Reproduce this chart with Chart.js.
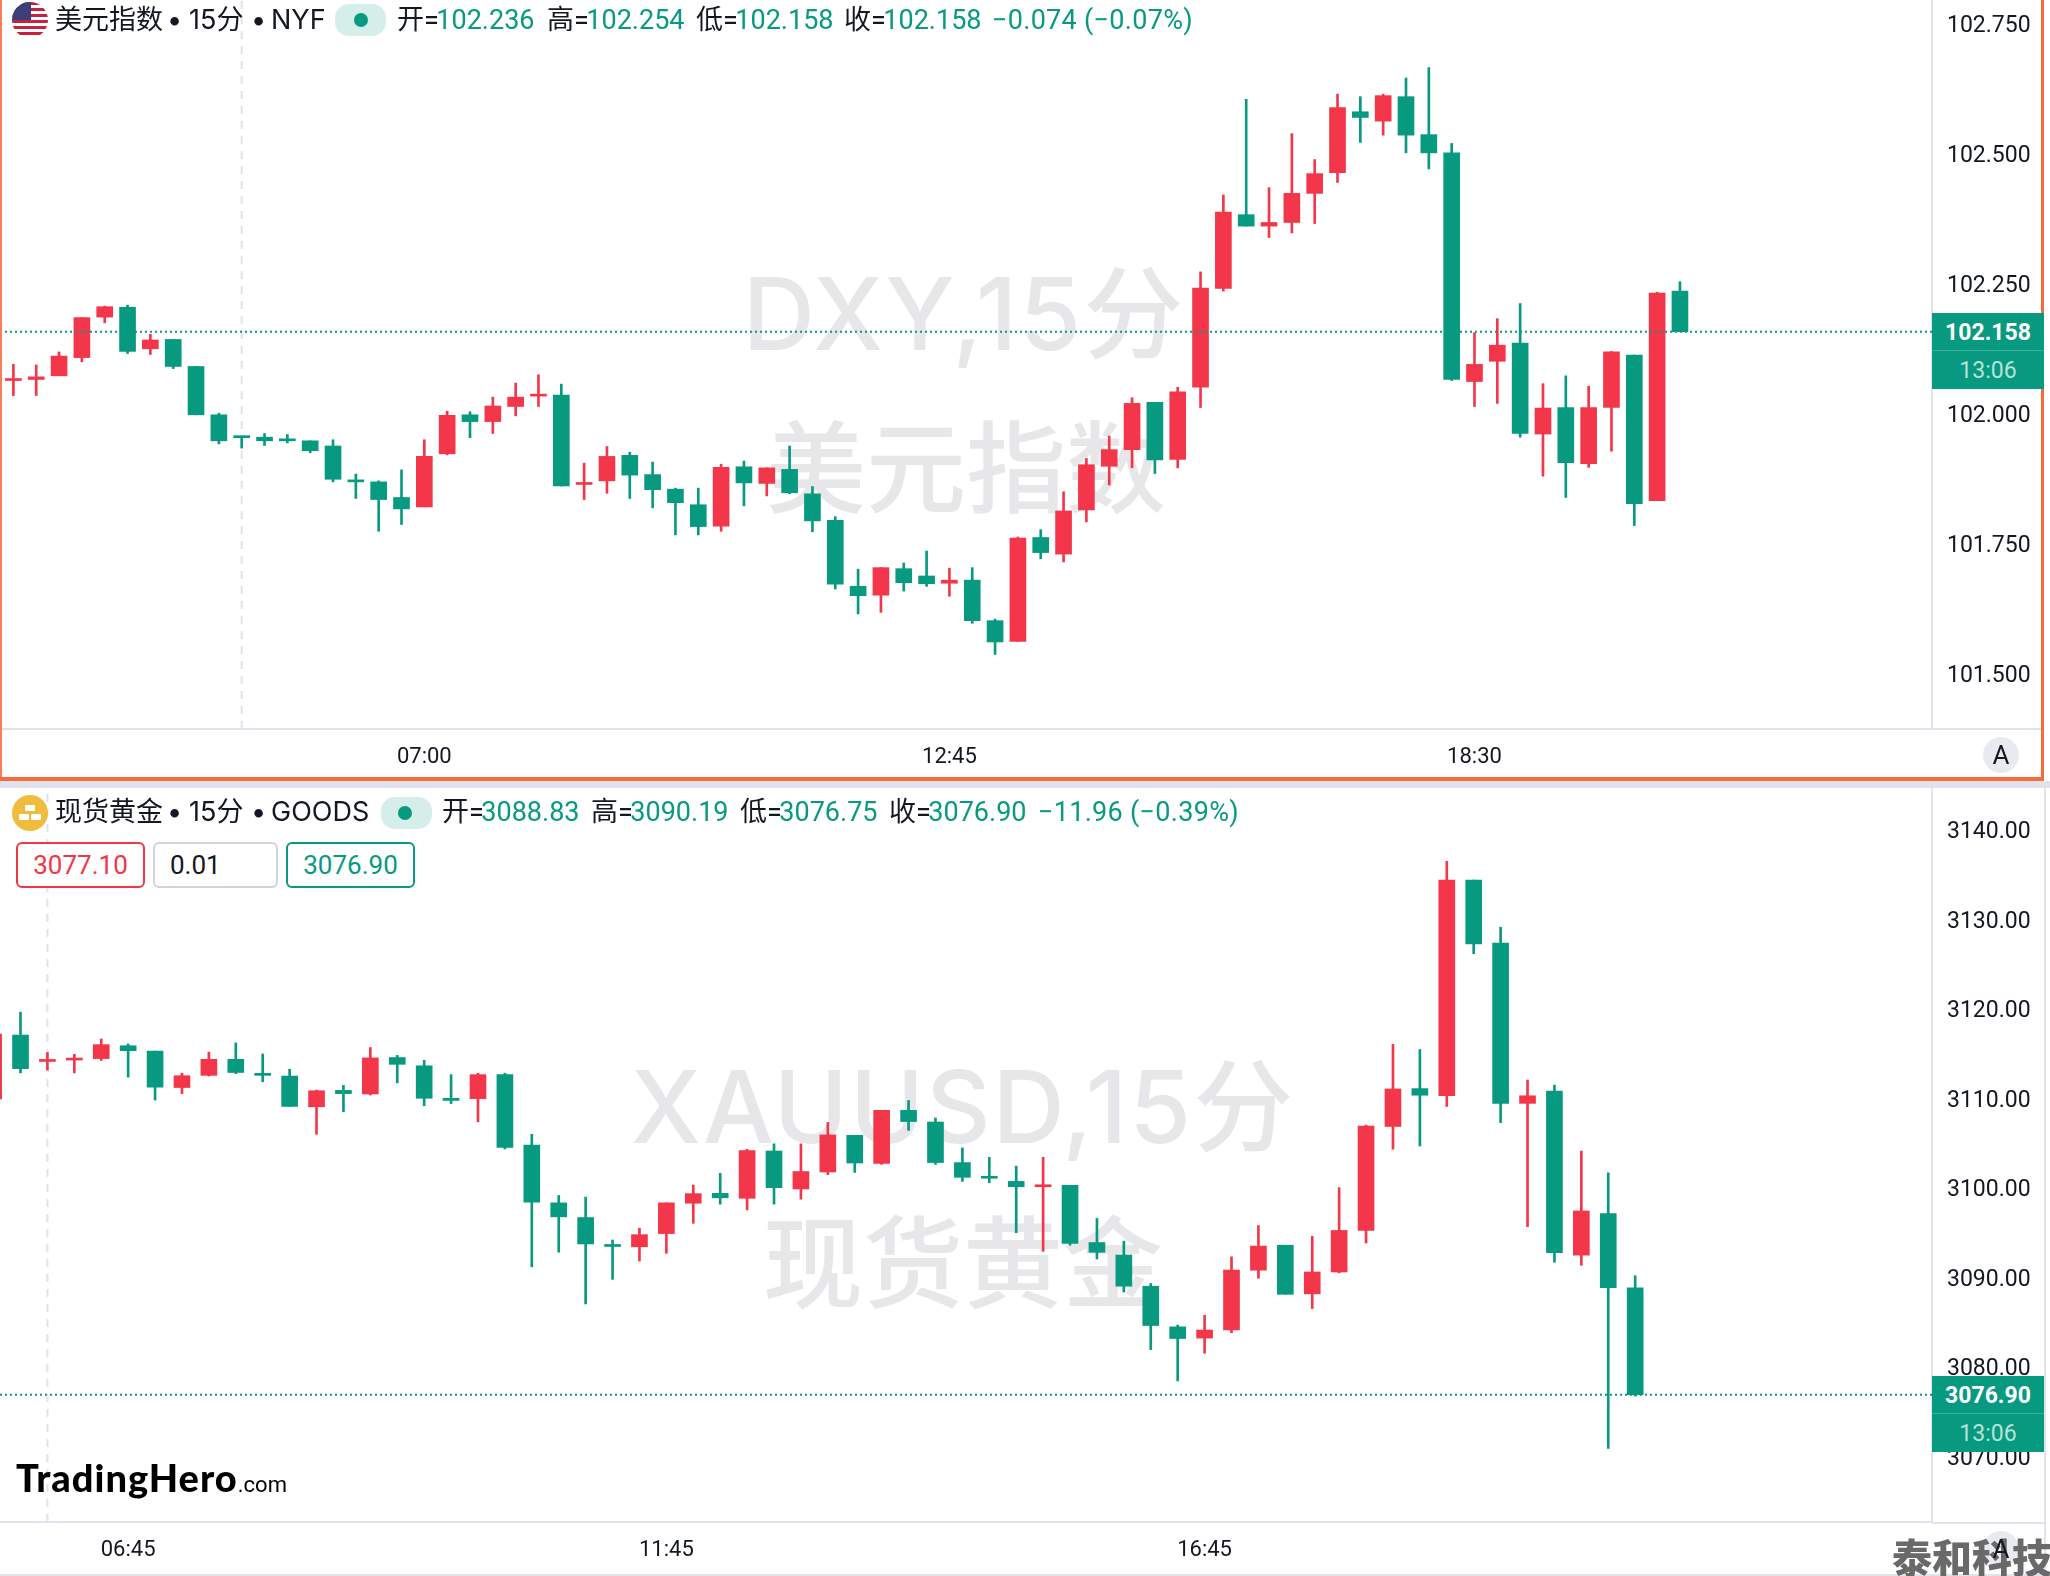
<!DOCTYPE html>
<html>
<head>
<meta charset="utf-8">
<title>DXY XAUUSD</title>
<script src="https://cdn.jsdelivr.net/npm/chart.js@4/dist/chart.umd.min.js"></script>
<style>
body { margin: 0; background: #fff; font-family: Roboto, "Noto Sans CJK SC", sans-serif; }
#page { position: relative; width: 2050px; height: 1576px; overflow: hidden; background: #fff; }
#page div, #page span, canvas { position: absolute; }
.wm { color: #e7e7ea; font-size: 100px; font-weight: 500; line-height: 100px; white-space: nowrap; transform: translateX(-50%); font-family: Inter, "Noto Sans CJK SC", sans-serif; }
.wide { letter-spacing: 2px; }
.hd { font-size: 27px; line-height: 32px; color: #131722; white-space: nowrap; }
.nm { font-family: Inter, "Noto Sans CJK SC", sans-serif; }
.up { color: #089981; }
#page span.val { position: static; color: #089981; margin-left: -2.5px; }
.box { background: #fff; box-sizing: border-box; border-radius: 6px; border: 2px solid; font-size: 26px; line-height: 42px; text-align: center; }
.tag { left: 1932px; width: 112px; height: 37px; background: #089981; color: #fff; font-size: 23px; line-height: 39px; text-align: center; }
.auto { width: 36px; height: 36px; border-radius: 18px; background: #e8eaf0; }
.autoA { width: 36px; text-align: center; font-size: 26px; line-height: 36px; color: #131722; }
.pill { width: 51px; height: 32px; border-radius: 14px; background: #d6eeea; }
.dot { width: 14px; height: 14px; border-radius: 7px; background: #089981; }
</style>
</head>
<body>
<div id="page">
  <div class="wm wide" style="left:964px;top:264px">DXY,15分</div>
  <div class="wm" style="left:966px;top:419px">美元指数</div>
  <div class="wm wide" style="left:963px;top:1057px">XAUUSD,15分</div>
  <div class="wm" style="left:963px;top:1214px">现货黄金</div>

  <canvas id="usdChart" style="left:0;top:0"></canvas>
  <canvas id="goldChart" style="left:0;top:788px"></canvas>

  <!-- panel frame -->
  <div style="left:0;top:781px;width:2050px;height:7px;background:#e0e3eb"></div>
  <div style="left:0;top:0;width:2px;height:780px;background:#fa7d55"></div>
  <div style="left:2041px;top:0;width:3px;height:781px;background:#fa6b3c"></div>
  <div style="left:0;top:777px;width:2044px;height:4px;background:#fa6b3c"></div>
  <div style="left:1932px;top:728px;width:109px;height:2px;background:#e0e3eb"></div>
  <div style="left:1932px;top:1522px;width:112px;height:2px;background:#e0e3eb"></div>
  <div style="left:0;top:1574px;width:2050px;height:2px;background:#e0e3eb"></div>
  <div style="left:2044px;top:788px;width:2px;height:788px;background:#e0e3eb"></div>

  <!-- dollar header -->
  <div style="left:12px;top:2px;width:36px;height:36px;border-radius:18px;overflow:hidden;background:repeating-linear-gradient(#c8213a 0 3px,#fff 3px 6px)">
    <div style="left:0;top:0;width:19px;height:18px;background:#3a3f7a"></div>
  </div>
  <div class="hd nm" style="left:55px;top:4px">美元指数</div>
  <div class="hd nm" style="left:167px;top:4px">•</div>
  <div class="hd nm" style="left:189px;top:4px">15分</div>
  <div class="hd nm" style="left:251px;top:4px">•</div>
  <div class="hd nm" style="left:271px;top:4px">NYF</div>
  <div class="pill" style="left:335px;top:4px"></div>
  <div class="dot" style="left:354px;top:13px"></div>
  <div class="hd" style="left:397px;top:4px">开=<span class="val">102.236</span></div>
  <div class="hd" style="left:547px;top:4px">高=<span class="val">102.254</span></div>
  <div class="hd" style="left:696px;top:4px">低=<span class="val">102.158</span></div>
  <div class="hd" style="left:844px;top:4px">收=<span class="val">102.158</span></div>
  <div class="hd up" style="left:992px;top:4px;letter-spacing:0.3px">−0.074 (−0.07%)</div>

  <!-- gold header -->
  <div style="left:12px;top:795px;width:36px;height:36px;border-radius:18px;background:#f0bc3c">
    <div style="left:13px;top:10px;width:10px;height:6px;background:#fff;border-radius:1px"></div>
    <div style="left:7px;top:19px;width:10px;height:6px;background:#fff;border-radius:1px"></div>
    <div style="left:19px;top:19px;width:10px;height:6px;background:#fff;border-radius:1px"></div>
  </div>
  <div class="hd nm" style="left:55px;top:796px">现货黄金</div>
  <div class="hd nm" style="left:167px;top:796px">•</div>
  <div class="hd nm" style="left:189px;top:796px">15分</div>
  <div class="hd nm" style="left:251px;top:796px">•</div>
  <div class="hd nm" style="left:271px;top:796px">GOODS</div>
  <div class="pill" style="left:381px;top:797px"></div>
  <div class="dot" style="left:398px;top:806px"></div>
  <div class="hd" style="left:442px;top:796px">开=<span class="val">3088.83</span></div>
  <div class="hd" style="left:591px;top:796px">高=<span class="val">3090.19</span></div>
  <div class="hd" style="left:740px;top:796px">低=<span class="val">3076.75</span></div>
  <div class="hd" style="left:889px;top:796px">收=<span class="val">3076.90</span></div>
  <div class="hd up" style="left:1038px;top:796px;letter-spacing:0.3px">−11.96 (−0.39%)</div>

  <div class="box" style="left:16px;top:842px;width:129px;height:46px;border-color:#f23645;color:#f23645">3077.10</div>
  <div class="box" style="left:153px;top:842px;width:125px;height:46px;border-color:#d1d4dc;color:#131722;text-align:left;padding-left:15px">0.01</div>
  <div class="box" style="left:286px;top:842px;width:129px;height:46px;border-color:#089981;color:#089981">3076.90</div>

  <!-- last price tags -->
  <div class="tag" style="top:313px;font-weight:700">102.158</div>
  <div class="tag" style="top:350px;color:#b5e3da;border-top:1px solid #3bb09b;height:38px">13:06</div>
  <div class="tag" style="top:1376px;font-weight:700">3076.90</div>
  <div class="tag" style="top:1413px;color:#b5e3da;border-top:1px solid #3bb09b;height:38px">13:06</div>

  <!-- logo, stamp, auto buttons -->
  <div style="left:16px;top:1454px;font-family:Lato,sans-serif;font-weight:900;font-size:38px;line-height:46px;color:#000;white-space:nowrap;letter-spacing:1px">TradingHero<span style="position:static;font-family:Roboto,sans-serif;font-weight:400;font-size:22px;letter-spacing:0">.com</span></div>
  <div class="auto" style="left:1983px;top:737px"></div>
  <div class="autoA" style="left:1983px;top:737px">A</div>
  <div class="auto" style="left:1983px;top:1531px"></div>
  <div style="left:1892px;top:1534px;font-family:'Noto Sans CJK SC';font-weight:900;font-size:40px;line-height:44px;color:#696969;white-space:nowrap">泰和科技</div>
  <div class="autoA" style="left:1983px;top:1531px">A</div>
</div>

<script>
'use strict';

// US dollar index, 15 minute bars
let usdOpen = [
    102.064, 102.066, 102.073, 102.108, 102.186, 102.205, 102.125, 102.143, 102.091, 101.998,
    101.957, 101.955, 101.951, 101.948, 101.938, 101.872, 101.869, 101.839, 101.821, 101.923,
    101.998, 101.985, 102.014, 102.034, 102.036, 101.864, 101.871, 101.920, 101.883, 101.855,
    101.825, 101.784, 101.898, 101.866, 101.893, 101.846, 101.795, 101.668, 101.651, 101.702,
    101.688, 101.674, 101.680, 101.602, 101.562, 101.762, 101.730, 101.815, 101.899, 101.931,
    102.022, 101.912, 102.051, 102.241, 102.383, 102.361, 102.368, 102.424, 102.464, 102.581,
    102.563, 102.610, 102.537, 102.502, 102.062, 102.101, 102.136, 101.961, 102.012, 101.904,
    102.012, 102.113, 101.833, 102.236
];
let usdHigh = [
    102.095, 102.094, 102.119, 102.185, 102.207, 102.209, 102.153, 102.143, 102.091, 102.001,
    101.957, 101.962, 101.960, 101.948, 101.950, 101.884, 101.871, 101.892, 101.950, 102.005,
    102.004, 102.032, 102.059, 102.075, 102.057, 101.905, 101.937, 101.926, 101.907, 101.857,
    101.857, 101.903, 101.909, 101.896, 101.938, 101.860, 101.802, 101.701, 101.704, 101.713,
    101.736, 101.703, 101.704, 101.605, 101.763, 101.777, 101.850, 101.914, 101.957, 102.031,
    102.022, 102.051, 102.273, 102.421, 102.605, 102.435, 102.539, 102.489, 102.615, 102.610,
    102.615, 102.646, 102.666, 102.520, 102.156, 102.183, 102.212, 102.058, 102.073, 102.053,
    102.120, 102.113, 102.234, 102.254
];
let usdLow = [
    102.035, 102.035, 102.073, 102.100, 102.175, 102.116, 102.114, 102.087, 101.998, 101.942,
    101.934, 101.939, 101.944, 101.925, 101.869, 101.837, 101.774, 101.787, 101.821, 101.921,
    101.954, 101.962, 101.996, 102.014, 101.861, 101.835, 101.847, 101.837, 101.819, 101.767,
    101.767, 101.774, 101.823, 101.842, 101.846, 101.773, 101.663, 101.615, 101.618, 101.659,
    101.668, 101.649, 101.597, 101.537, 101.562, 101.721, 101.715, 101.792, 101.863, 101.896,
    101.885, 101.896, 102.012, 102.236, 102.361, 102.339, 102.348, 102.366, 102.445, 102.522,
    102.536, 102.502, 102.471, 102.064, 102.014, 102.020, 101.955, 101.880, 101.839, 101.897,
    101.928, 101.785, 101.833, 102.158
];
let usdClose = [
    102.066, 102.071, 102.111, 102.185, 102.206, 102.120, 102.142, 102.091, 101.998, 101.948,
    101.954, 101.948, 101.948, 101.929, 101.874, 101.869, 101.835, 101.817, 101.918, 101.997,
    101.985, 102.015, 102.032, 102.036, 101.861, 101.866, 101.918, 101.882, 101.854, 101.829,
    101.783, 101.897, 101.867, 101.896, 101.848, 101.794, 101.672, 101.650, 101.704, 101.675,
    101.673, 101.680, 101.602, 101.561, 101.761, 101.733, 101.813, 101.902, 101.931, 102.020,
    101.911, 102.042, 102.242, 102.388, 102.361, 102.368, 102.424, 102.462, 102.589, 102.570,
    102.612, 102.536, 102.502, 102.066, 102.095, 102.132, 101.962, 102.011, 101.906, 102.012,
    102.119, 101.827, 102.232, 102.158
];
let usdPriceTicks = [101.5, 101.75, 102, 102.25, 102.5, 102.75];
let usdTimeLabels = ['07:00', '12:45', '18:30'];
let usdTimeBars = [18, 41, 64];
let usdSeparatorBar = 10;
let usdLast = 102.158;

// spot gold, 15 minute bars
let goldOpen = [
    3109.93, 3117.07, 3114.12, 3114.28, 3114.44, 3115.88, 3115.28, 3111.21, 3112.57, 3114.36,
    3112.69, 3112.49, 3109.06, 3110.89, 3110.49, 3114.56, 3113.64, 3110.01, 3109.97, 3112.65,
    3104.79, 3098.33, 3096.69, 3093.58, 3093.42, 3094.90, 3098.29, 3099.39, 3098.84, 3104.12,
    3099.88, 3101.78, 3105.87, 3102.73, 3108.66, 3107.36, 3102.83, 3101.23, 3100.73, 3100.13,
    3100.28, 3093.90, 3092.51, 3089.02, 3084.48, 3083.23, 3084.13, 3090.81, 3093.60, 3088.17,
    3090.61, 3095.25, 3106.86, 3111.09, 3110.29, 3134.38, 3127.35, 3109.44, 3110.80, 3092.49,
    3097.14, 3088.83
];
let goldHigh = [
    3117.19, 3119.63, 3115.12, 3114.92, 3116.63, 3116.08, 3115.28, 3112.81, 3115.16, 3116.19,
    3114.96, 3113.24, 3110.93, 3111.45, 3115.68, 3114.80, 3114.24, 3112.65, 3112.81, 3112.81,
    3105.99, 3099.16, 3098.97, 3094.18, 3095.50, 3098.33, 3100.32, 3101.63, 3104.32, 3104.92,
    3104.92, 3107.31, 3105.87, 3108.66, 3109.76, 3107.81, 3104.47, 3103.42, 3102.43, 3103.42,
    3100.28, 3096.59, 3094.05, 3089.32, 3084.68, 3085.78, 3092.31, 3095.80, 3093.60, 3094.60,
    3100.03, 3107.01, 3116.04, 3115.45, 3136.48, 3134.38, 3129.11, 3112.05, 3111.48, 3104.11,
    3101.68, 3090.19
];
let goldLow = [
    3109.93, 3112.85, 3113.16, 3112.85, 3114.24, 3112.37, 3109.81, 3110.53, 3112.49, 3112.77,
    3111.85, 3109.10, 3105.99, 3108.50, 3110.37, 3111.73, 3109.18, 3109.42, 3107.38, 3104.35,
    3091.19, 3092.82, 3087.04, 3089.79, 3091.83, 3092.70, 3096.05, 3098.19, 3097.54, 3098.19,
    3098.74, 3101.48, 3101.73, 3102.63, 3106.42, 3102.63, 3100.73, 3100.58, 3095.00, 3092.91,
    3093.60, 3092.06, 3088.37, 3081.94, 3078.45, 3081.54, 3083.83, 3089.91, 3088.12, 3086.52,
    3090.51, 3093.85, 3104.32, 3104.68, 3109.10, 3126.16, 3107.29, 3095.67, 3091.70, 3091.36,
    3070.90, 3076.75
];
let goldClose = [
    3117.19, 3113.32, 3114.24, 3114.40, 3116.00, 3115.32, 3111.25, 3112.53, 3114.36, 3112.89,
    3112.57, 3109.10, 3110.85, 3110.53, 3114.52, 3113.80, 3110.01, 3109.77, 3112.65, 3104.51,
    3098.41, 3096.77, 3093.74, 3093.46, 3094.78, 3098.33, 3099.36, 3098.89, 3104.17, 3100.03,
    3101.83, 3105.92, 3102.78, 3108.66, 3107.41, 3102.83, 3101.18, 3101.08, 3100.13, 3100.28,
    3093.80, 3092.81, 3089.02, 3084.63, 3083.18, 3084.13, 3090.81, 3093.50, 3088.12, 3090.61,
    3095.25, 3106.91, 3111.05, 3110.35, 3134.38, 3127.24, 3109.44, 3110.29, 3092.78, 3097.43,
    3088.87, 3076.90
];
let goldPriceTicks = [3070, 3080, 3090, 3100, 3110, 3120, 3130, 3140];
let goldTimeLabels = ['06:45', '11:45', '16:45'];
let goldTimeBars = [5, 25, 45];
let goldSeparatorBar = 2;
let goldLast = 3076.9;

const GREEN = '#089981';
const RED = '#f4364a';
const LINE = '#e0e3eb';

function drawPanel(id, panel) {
    let canvas = document.getElementById(id);
    canvas.width = 2043;
    canvas.height = panel.height;
    canvas.style.width = '2043px';
    canvas.style.height = panel.height + 'px';

    let colors = panel.close.map((c, i) => c >= panel.open[i] ? RED : GREEN);
    let wicks = panel.open.map((o, i) => ({ x: i, y: [panel.low[i], panel.high[i]] }));
    let bodies = panel.open.map((o, i) => ({ x: i, y: [o, panel.close[i]] }));

    return new Chart(canvas, {
        type: 'bar',
        data: {
            datasets: [
                { data: bodies, backgroundColor: colors, barThickness: 16, minBarLength: 2, grouped: false, order: 2 },
                { data: wicks, backgroundColor: colors, barThickness: 2, grouped: false, order: 3 },
                {
                    type: 'line', order: 1, borderColor: GREEN, borderWidth: 2, borderDash: [2, 3], pointRadius: 0,
                    data: [{ x: panel.xMin, y: panel.last }, { x: panel.xMax, y: panel.last }]
                },
                {
                    type: 'line', order: 4, borderColor: LINE, borderWidth: 2, borderDash: [8, 7], pointRadius: 0,
                    data: [{ x: panel.separator, y: panel.yMin }, { x: panel.separator, y: panel.yMax }]
                }
            ]
        },
        options: {
            responsive: false,
            animation: false,
            devicePixelRatio: 1,
            layout: { padding: 0 },
            plugins: { legend: { display: false }, tooltip: { enabled: false } },
            scales: {
                x: {
                    type: 'linear',
                    min: panel.xMin,
                    max: panel.xMax,
                    offset: false,
                    grid: { display: false, drawTicks: false },
                    border: { color: LINE, width: 2 },
                    afterBuildTicks: scale => { scale.ticks = panel.timeBars.map(v => ({ value: v })); },
                    afterFit: scale => {
                        scale.height = panel.axisHeight;
                        scale.paddingLeft = 0;
                        scale.paddingRight = 0;
                    },
                    ticks: {
                        autoSkip: false,
                        maxRotation: 0,
                        padding: 15,
                        color: '#131722',
                        font: { family: 'Roboto, sans-serif', size: 22 },
                        callback: value => panel.timeLabels[panel.timeBars.indexOf(value)]
                    }
                },
                y: {
                    position: 'right',
                    min: panel.yMin,
                    max: panel.yMax,
                    grid: { display: false, drawTicks: false },
                    border: { color: LINE, width: 2 },
                    afterBuildTicks: scale => { scale.ticks = panel.priceTicks.map(v => ({ value: v })); },
                    afterFit: scale => {
                        scale.width = 111;
                        scale.paddingTop = 0;
                        scale.paddingBottom = 0;
                    },
                    ticks: {
                        crossAlign: 'near',
                        padding: 15,
                        labelOffset: 2.5,
                        color: '#131722',
                        font: { family: 'Roboto, sans-serif', size: 23 },
                        callback: value => value.toFixed(panel.digits)
                    }
                }
            }
        }
    });
}

drawPanel('usdChart', {
    open: usdOpen, high: usdHigh, low: usdLow, close: usdClose,
    priceTicks: usdPriceTicks, timeLabels: usdTimeLabels, timeBars: usdTimeBars,
    separator: usdSeparatorBar, last: usdLast, digits: 3,
    height: 779, axisHeight: 50,
    xMin: -0.587, xMax: 84.04, yMin: 101.3936, yMax: 102.796
});

drawPanel('goldChart', {
    open: goldOpen, high: goldHigh, low: goldLow, close: goldClose,
    priceTicks: goldPriceTicks, timeLabels: goldTimeLabels, timeBars: goldTimeBars,
    separator: goldSeparatorBar, last: goldLast, digits: 2,
    height: 786, axisHeight: 52,
    xMin: 0.238, xMax: 72.03, yMin: 3062.69, yMax: 3144.66
});
</script>
</body>
</html>
